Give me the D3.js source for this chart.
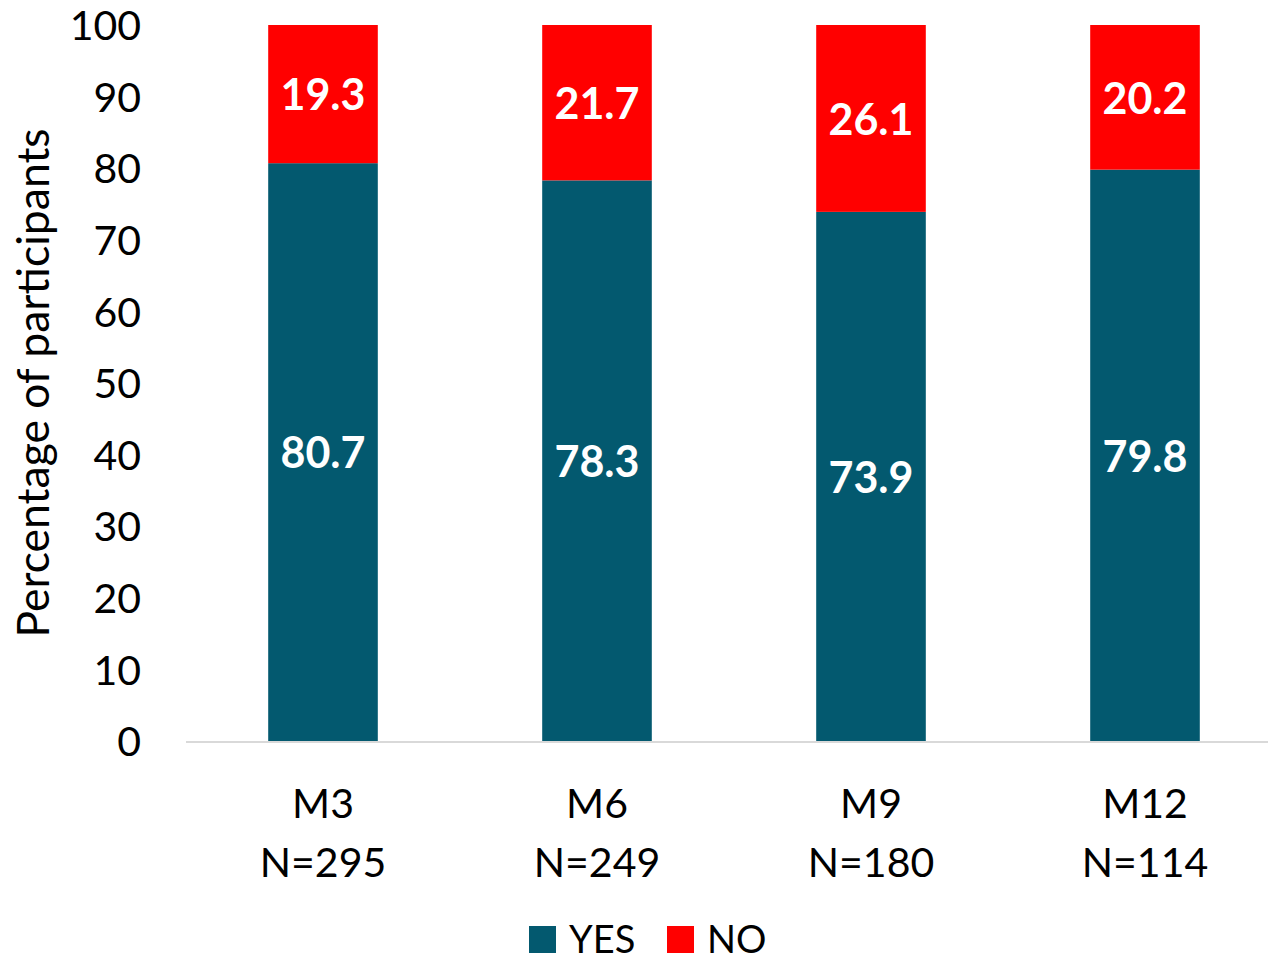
<!DOCTYPE html>
<meta charset="utf-8">
<script src="https://d3js.org/d3.v7.min.js"></script>
<style>
  body { margin: 0; background: #fff; }
  text { font-family: Lato, "Open Sans", sans-serif; }
</style>
<body>
<svg width="1268" height="961"></svg>
<script>
    var months  = ['M3', 'M6', 'M9', 'M12'];
    var counts  = [295, 249, 180, 114];
    var yesVals = [80.7, 78.3, 73.9, 79.8];
    var noVals  = [19.3, 21.7, 26.1, 20.2];
    var yTicks  = [0, 10, 20, 30, 40, 50, 60, 70, 80, 90, 100];

    var svg = d3.select('svg');
    var colors = {YES: '#03596F', NO: '#FF0000'};

    var x = d3.scaleBand().domain(months).range([186, 1282]).paddingInner(0.6).paddingOuter(0.3);
    var y = d3.scaleLinear().domain([0, 100]).range([741, 25]);

    var rows = months.map(function(m, i){ return {m: m, n: counts[i], YES: yesVals[i], NO: noVals[i]}; });
    var stack = d3.stack().keys(['YES', 'NO'])(rows);

    // y axis labels only, no line
    var yAxis = svg.append('g').attr('transform', 'translate(141,0)')
        .call(d3.axisLeft(y).tickValues(yTicks).tickSize(0).tickPadding(0));
    yAxis.select('.domain').remove();
    yAxis.selectAll('text').attr('font-size', 41).attr('fill', '#000')
        .attr('font-family', 'Lato, sans-serif').attr('dy', '0.36em');

    svg.append('text')
        .attr('transform', 'translate(49,383) rotate(-90)')
        .attr('text-anchor', 'middle')
        .attr('font-size', 44.5)
        .text('Percentage of participants');

    var layers = svg.selectAll('g.layer').data(stack).enter().append('g')
        .attr('fill', function(d){ return colors[d.key]; });

    layers.selectAll('rect').data(function(d){ return d; }).enter().append('rect')
        .attr('x', function(d){ return x(d.data.m); })
        .attr('width', x.bandwidth())
        .attr('y', function(d){ return y(d[1]); })
        .attr('height', function(d){ return y(d[0]) - y(d[1]); });

    layers.selectAll('text').data(function(d){ return d; }).enter().append('text')
        .attr('x', function(d){ return x(d.data.m) + x.bandwidth() / 2; })
        .attr('y', function(d){ return y((d[0] + d[1]) / 2); })
        .attr('dy', '0.38em')
        .attr('text-anchor', 'middle')
        .attr('font-size', 43)
        .attr('font-weight', 'bold')
        .attr('fill', '#fff')
        .text(function(d){ return d3.format('.1f')(d[1] - d[0]); });

    // baseline
    svg.append('line').attr('x1', 186).attr('x2', 1268)
        .attr('y1', y(0) + 1).attr('y2', y(0) + 1)
        .attr('stroke', '#D9D9D9').attr('stroke-width', 2);

    var cat = svg.selectAll('text.cat').data(rows).enter().append('text')
        .attr('class', 'cat')
        .attr('text-anchor', 'middle')
        .attr('font-size', 41);
    cat.append('tspan')
        .attr('x', function(d){ return x(d.m) + x.bandwidth() / 2; })
        .attr('y', 818)
        .text(function(d){ return d.m; });
    cat.append('tspan')
        .attr('x', function(d){ return x(d.m) + x.bandwidth() / 2; })
        .attr('y', 877)
        .text(function(d){ return 'N=' + d.n; });

    // legend
    var legend = [{k: 'YES', x: 529}, {k: 'NO', x: 667}];
    var lg = svg.selectAll('g.legend').data(legend).enter().append('g')
        .attr('transform', function(d){ return 'translate(' + d.x + ',926)'; });
    lg.append('rect').attr('width', 27).attr('height', 27)
        .attr('fill', function(d){ return colors[d.k]; });
    lg.append('text').attr('x', 40).attr('y', 27).attr('font-size', 38)
        .text(function(d){ return d.k; });
</script>
</body>
